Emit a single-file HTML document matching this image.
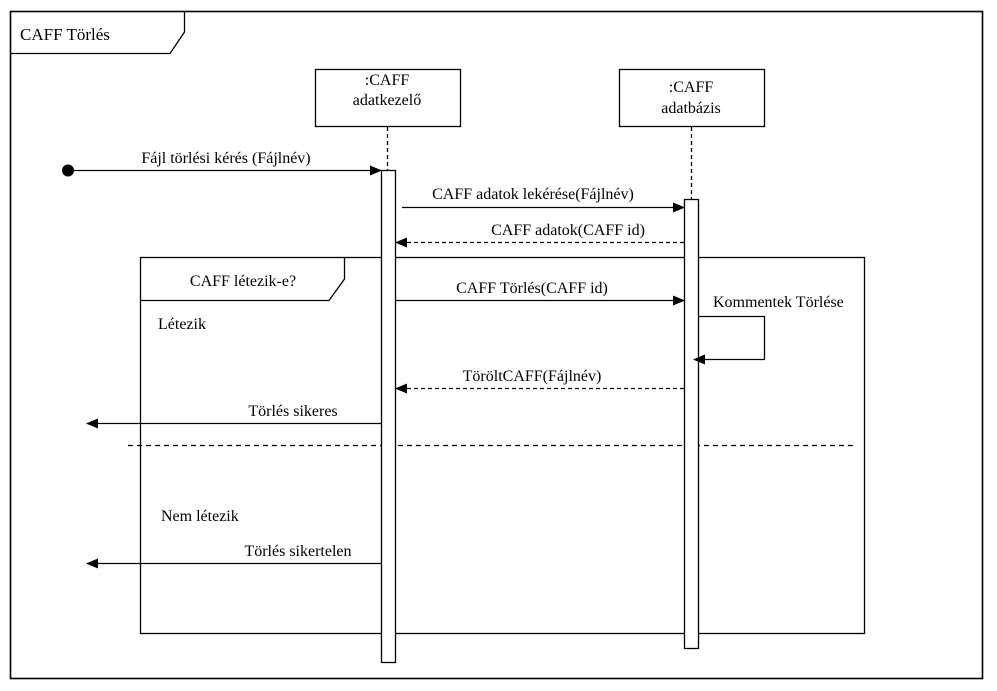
<!DOCTYPE html>
<html><head><meta charset="utf-8">
<style>
html,body{margin:0;padding:0;background:#fff;}
svg{display:block;}
svg text{font-family:"Liberation Serif","Times New Roman","DejaVu Serif",serif;font-size:16px;fill:#000;}
</style></head><body>
<svg width="997" height="691" viewBox="0 0 997 691" xmlns="http://www.w3.org/2000/svg">
<defs>
<marker id="a" markerWidth="12" markerHeight="10" refX="11" refY="5" orient="auto" markerUnits="userSpaceOnUse">
<path d="M0,0 L12,5 L0,10 z" fill="#000"/>
</marker>
</defs>
<g fill="none" stroke="#000" stroke-width="1.3">
<rect x="10.5" y="11.5" width="972" height="667" stroke-width="1.6"/>
<path d="M10.5,53.5 H170 L184.5,32 V11.5"/>
<rect x="315.5" y="69.5" width="145" height="57"/>
<rect x="619.5" y="69.5" width="145" height="57"/>
<line x1="387.5" y1="127" x2="387.5" y2="170" stroke-dasharray="4,3"/>
<line x1="691.5" y1="127" x2="691.5" y2="199" stroke-dasharray="4,3"/>
<rect x="140.5" y="257.5" width="724" height="376"/>
<path d="M140.5,300.5 H329 L344.5,279 V257.5"/>
<line x1="128" y1="445.5" x2="857" y2="445.5" stroke-dasharray="5,4"/>
<rect x="381.5" y="170.5" width="14" height="492" fill="#fff"/>
<rect x="684.5" y="199.5" width="14" height="449" fill="#fff"/>
<line x1="68" y1="170.5" x2="381" y2="170.5" marker-end="url(#a)"/>
<line x1="402" y1="207.5" x2="684" y2="207.5" marker-end="url(#a)"/>
<line x1="684" y1="242.5" x2="396" y2="242.5" stroke-dasharray="4,3" marker-end="url(#a)"/>
<line x1="396" y1="300.5" x2="684" y2="300.5" marker-end="url(#a)"/>
<path d="M699,316.5 H764.5 V359.5 H694" marker-end="url(#a)"/>
<line x1="684" y1="388.5" x2="396" y2="388.5" stroke-dasharray="4,3" marker-end="url(#a)"/>
<line x1="381" y1="423.5" x2="87" y2="423.5" marker-end="url(#a)"/>
<line x1="381" y1="563.5" x2="87" y2="563.5" marker-end="url(#a)"/>
</g>
<circle cx="68" cy="170.5" r="6" fill="#000"/>
<text x="20" y="40" style="font-size:17px">CAFF Törlés</text>
<text x="387" y="85" text-anchor="middle">:CAFF</text>
<text x="387" y="105" text-anchor="middle">adatkezelő</text>
<text x="691" y="92" text-anchor="middle">:CAFF</text>
<text x="691" y="113" text-anchor="middle">adatbázis</text>
<text x="226" y="163" text-anchor="middle">Fájl törlési kérés (Fájlnév)</text>
<text x="533" y="199" text-anchor="middle">CAFF adatok lekérése(Fájlnév)</text>
<text x="568" y="235" text-anchor="middle">CAFF adatok(CAFF id)</text>
<text x="243" y="286" text-anchor="middle">CAFF létezik-e?</text>
<text x="532" y="293" text-anchor="middle">CAFF Törlés(CAFF id)</text>
<text x="713" y="307">Kommentek Törlése</text>
<text x="532" y="381" text-anchor="middle">TöröltCAFF(Fájlnév)</text>
<text x="158" y="329">Létezik</text>
<text x="293" y="416" text-anchor="middle">Törlés sikeres</text>
<text x="161" y="521">Nem létezik</text>
<text x="298" y="556" text-anchor="middle">Törlés sikertelen</text>
</svg>
</body></html>
